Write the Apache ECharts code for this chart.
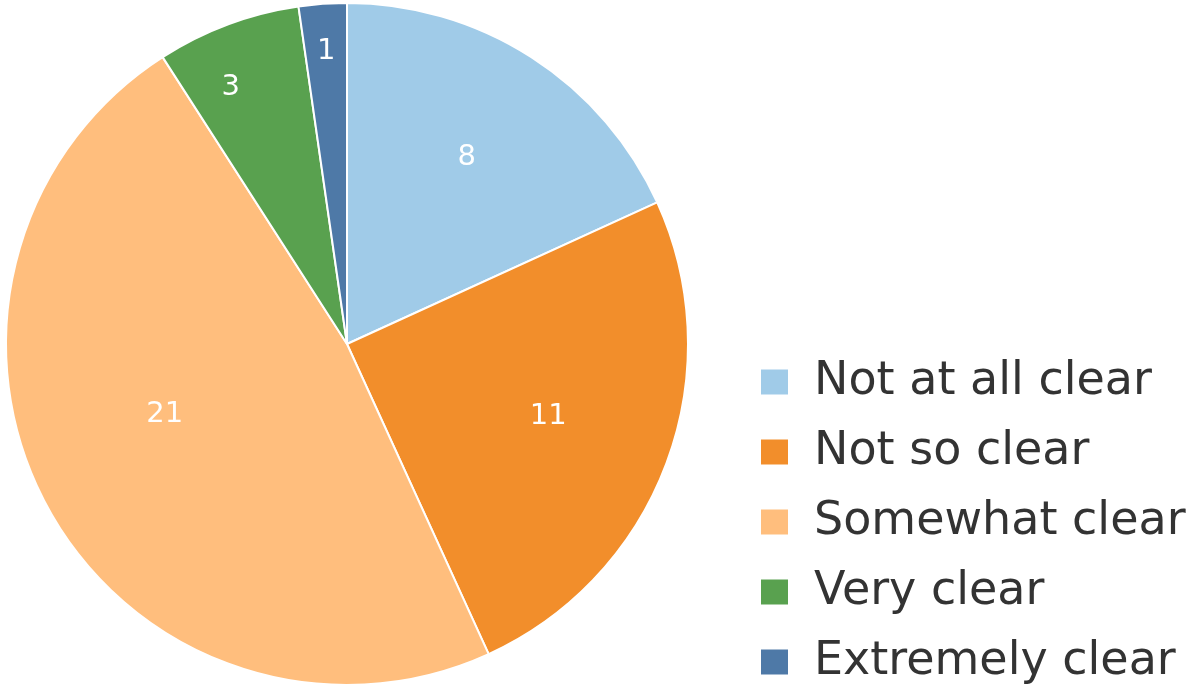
<!DOCTYPE html>
<html>
<head>
<meta charset="utf-8">
<script src="https://cdn.jsdelivr.net/npm/echarts@6/dist/echarts.min.js"></script>
<style>
  html, body { margin: 0; padding: 0; background: #fff; }
  #chart { width: 1189px; height: 692px; }
</style>
</head>
<body>
<div id="chart"></div>
<script>
// Responses: how clear was it?
const categories = ['Not at all clear', 'Not so clear', 'Somewhat clear', 'Very clear', 'Extremely clear'];
const counts = [8, 11, 21, 3, 1];
const colors = ['#A0CBE8', '#F28E2B', '#FFBE7D', '#59A14F', '#4E79A7'];

// small slices carry their labels further out
const outerLabelSet = ['Very clear', 'Extremely clear'];
// small nudges so labels sit clear of the slice edges
const labelNudge = { 'Not so clear': [-6, -5], 'Somewhat clear': [12, -36], 'Very clear': [-14, 18] };

const R = 341;
const center = [347, 344];
const font = '"DejaVu Sans", "Noto Sans", sans-serif';

const pieData = categories.map((name, i) => ({
  name, value: counts[i], itemStyle: { color: colors[i] }
}));

function labelRing(ratio, pick) {
  // transparent copy of the pie; its 'inside' labels sit at half its radius
  return {
    type: 'pie',
    silent: true,
    legendHoverLink: false,
    center,
    radius: [0, R * ratio * 2],
    startAngle: 90,
    clockwise: true,
    avoidLabelOverlap: false,
    animation: false,
    itemStyle: { color: 'rgba(0,0,0,0)', borderWidth: 0 },
    emphasis: { disabled: true },
    label: {
      show: true, position: 'inside', color: '#fff',
      fontSize: 29, fontFamily: font, formatter: '{c}'
    },
    labelLine: { show: false },
    data: categories.map((name, i) => ({
      name: name + ' ', value: counts[i],
      label: { show: pick(name), offset: labelNudge[name] || [0, 0] }
    }))
  };
}

const chart = echarts.init(document.getElementById('chart'), null, { renderer: 'canvas' });
chart.setOption({
  animation: false,
  legend: {
    orient: 'vertical',
    left: 759,
    top: 359,
    height: 600,
    width: 600,
    padding: 0,
    data: categories,
    icon: 'rect',
    itemWidth: 29,
    itemHeight: 27,
    itemGap: 24,
    selectedMode: false,
    textStyle: { fontSize: 46, lineHeight: 44, color: '#333', fontFamily: font, padding: [0, 0, 0, 20] }
  },
  series: [
    {
      type: 'pie',
      center,
      radius: [0, R],
      startAngle: 90,
      clockwise: true,
      avoidLabelOverlap: false,
      itemStyle: { borderColor: '#fff', borderWidth: 2 },
      label: { show: false },
      labelLine: { show: false },
      data: pieData
    },
    labelRing(0.64, n => !outerLabelSet.includes(n)),
    labelRing(0.85, n => outerLabelSet.includes(n))
  ]
});
</script>
</body>
</html>
